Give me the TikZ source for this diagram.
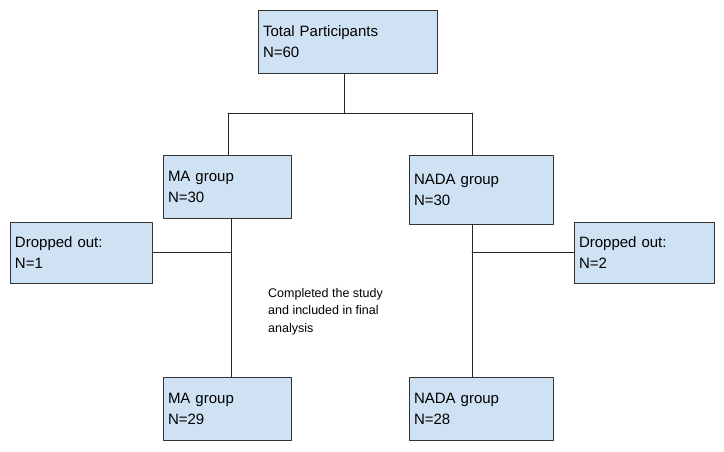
\documentclass[tikz,border=0pt]{standalone}
\usepackage{fontspec}
\setmainfont{Liberation Sans}
\usetikzlibrary{positioning}
\definecolor{boxblue}{RGB}{207,226,243}
\begin{document}
\begin{tikzpicture}[x=1pt,y=-1pt,line cap=round,line join=round,
  box/.style={draw=black!80,fill=boxblue,line width=0.8pt,inner sep=0pt,
    text width=#1-10pt,minimum width=#1,minimum height=63pt,align=left,
    font=\fontsize{15}{21}\selectfont},
  box/.default=128pt,
  link/.style={draw=black!85,line width=0.8pt}]
\useasboundingbox (0,0) rectangle (724,451);
% boxes
\node[box=179pt] (total) at (347.5,41.5) {Total Participants\\N=60};
\node[box] (ma) at (227,186.5) {MA group\\N=30};
\node[box=144pt,minimum height=69pt] (nada) at (481,189.5) {NADA group\\N=30};
\node[box=142pt,minimum height=61pt] (dropl) at (81,252.5) {Dropped out:\\N=1};
\node[box=140pt,minimum height=61pt] (dropr) at (644,252.5) {Dropped out:\\N=2};
\node[box] (mafin) at (227,409) {MA group\\N=29};
\node[box=144pt] (nadafin) at (481,409) {NADA group\\N=28};
\node[align=left,anchor=north west,inner sep=0pt,font=\fontsize{12.5}{17.5}\selectfont]
  (note) at (268,288) {Completed the study\\and included in final\\analysis};
% connectors
\coordinate (split) at (344,113);
\coordinate (leftc) at (228,113);
\coordinate (rightc) at (472,113);
\coordinate (mj) at (231,252);
\coordinate (nj) at (472,252);
\draw[link] (total.south -| split) -- (split);
\draw[link] (leftc) -- (rightc);
\draw[link] (leftc) -- (leftc |- ma.north);
\draw[link] (rightc) -- (rightc |- nada.north);
\draw[link] (mj |- ma.south) -- (mj |- mafin.north);
\draw[link] (dropl.east |- mj) -- (mj);
\draw[link] (nj |- nada.south) -- (nj |- nadafin.north);
\draw[link] (nj) -- (dropr.west |- nj);
\end{tikzpicture}
\end{document}
